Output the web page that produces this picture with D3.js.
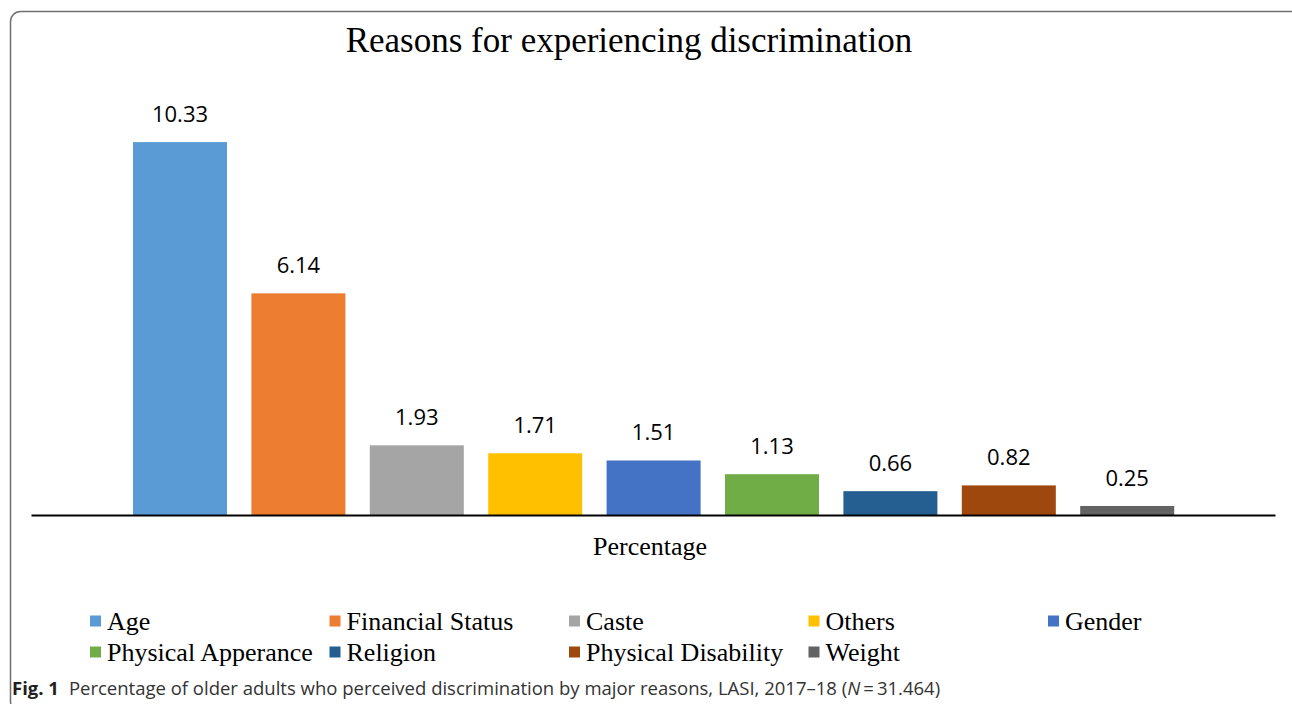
<!DOCTYPE html>
<html>
<head>
<meta charset="utf-8">
<script src="https://cdn.jsdelivr.net/npm/d3@7"></script>
<style>
  html, body { margin: 0; padding: 0; background: #fff; }
  svg { display: block; }
</style>
</head>
<body>
<svg id="chart" width="1292" height="704"></svg>
<script>
// ---- data ----
const categories = ["Age", "Financial Status", "Caste", "Others", "Gender",
  "Physical Apperance", "Religion", "Physical Disability", "Weight"];
const values = [10.33, 6.14, 1.93, 1.71, 1.51, 1.13, 0.66, 0.82, 0.25];
const valueLabels = ["10.33", "6.14", "1.93", "1.71", "1.51", "1.13", "0.66", "0.82", "0.25"];
const colors = ["#5B9BD5", "#ED7D31", "#A5A5A5", "#FFC000", "#4472C4",
  "#70AD47", "#255E91", "#9E480E", "#636363"];
const titleText = "Reasons for experiencing discrimination";
const axisTitle = "Percentage";

const svg = d3.select("#chart");

// frame
svg.append("rect")
  .attr("x", 10.5).attr("y", 11.5)
  .attr("width", 1290).attr("height", 700)
  .attr("rx", 10).attr("ry", 10)
  .attr("fill", "none").attr("stroke", "#6f6f6f").attr("stroke-width", 1.5);

// scales
const x = d3.scaleBand()
  .domain(categories)
  .range([120.8, 1186.4])
  .paddingInner(0.206)
  .paddingOuter(0.103);

const y = d3.scaleLinear()
  .domain([0, 12])
  .range([515, 515 - 12 * 36.1]);

// title
svg.append("text")
  .attr("x", 629).attr("y", 52)
  .attr("text-anchor", "middle")
  .attr("font-family", "'Liberation Serif', 'Times New Roman', serif")
  .attr("font-size", 35)
  .attr("fill", "#000")
  .text(titleText);

// bars
svg.append("g").selectAll("rect")
  .data(categories)
  .join("rect")
  .attr("x", d => x(d))
  .attr("width", x.bandwidth())
  .attr("y", (d, i) => y(values[i]))
  .attr("height", (d, i) => y(0) - y(values[i]))
  .attr("fill", (d, i) => colors[i]);

// value labels
svg.append("g").selectAll("text")
  .data(categories)
  .join("text")
  .attr("x", d => x(d) + x.bandwidth() / 2)
  .attr("y", (d, i) => y(values[i]) - 20)
  .attr("text-anchor", "middle")
  .attr("font-family", "'Open Sans', 'Noto Sans', sans-serif")
  .attr("font-size", 22)
  .attr("fill", "#000")
  .text((d, i) => valueLabels[i]);

// x axis baseline (single category axis)
const xAxisScale = d3.scaleBand().domain([axisTitle]).range([31, 1275]);
const axisG = svg.append("g").attr("transform", `translate(0,${y(0)})`)
  .call(d3.axisBottom(xAxisScale).tickSize(0).tickFormat(""));
axisG.select(".domain").attr("stroke", "#000").attr("stroke-width", 2);

// axis category label
svg.append("text")
  .attr("x", xAxisScale(axisTitle) + xAxisScale.bandwidth() / 2 - 3)
  .attr("y", 555)
  .attr("text-anchor", "middle")
  .attr("font-family", "'Liberation Serif', 'Times New Roman', serif")
  .attr("font-size", 26)
  .attr("fill", "#000")
  .text(axisTitle);

// legend
const legendCols = 5, colStep = 239.5, legendX0 = 90, rowY0 = 621, rowStep = 31;
const lg = svg.append("g").selectAll("g")
  .data(categories)
  .join("g")
  .attr("transform", (d, i) => `translate(${legendX0 + (i % legendCols) * colStep},${rowY0 + Math.floor(i / legendCols) * rowStep})`);
lg.append("rect")
  .attr("x", 0).attr("y", -5.5)
  .attr("width", 11).attr("height", 11)
  .attr("fill", (d, i) => colors[i]);
lg.append("text")
  .attr("x", 17).attr("y", 8.5)
  .attr("font-family", "'Liberation Serif', 'Times New Roman', serif")
  .attr("font-size", 26)
  .attr("fill", "#000")
  .text(d => d);

// caption
const cap = svg.append("text")
  .attr("x", 12).attr("y", 695)
  .attr("font-family", "'Open Sans', 'Noto Sans', sans-serif")
  .attr("font-size", 18.5)
  .attr("fill", "#231f20");
cap.append("tspan").attr("font-weight", "bold").text("Fig. 1");
cap.append("tspan").attr("dx", 10).attr("fill", "#333").text("Percentage of older adults who perceived discrimination by major reasons, LASI, 2017–18 (");
cap.append("tspan").attr("font-style", "italic").attr("fill", "#333").text("N");
cap.append("tspan").attr("fill", "#333").text("\u2009=\u200931.464)");
</script>
</body>
</html>
